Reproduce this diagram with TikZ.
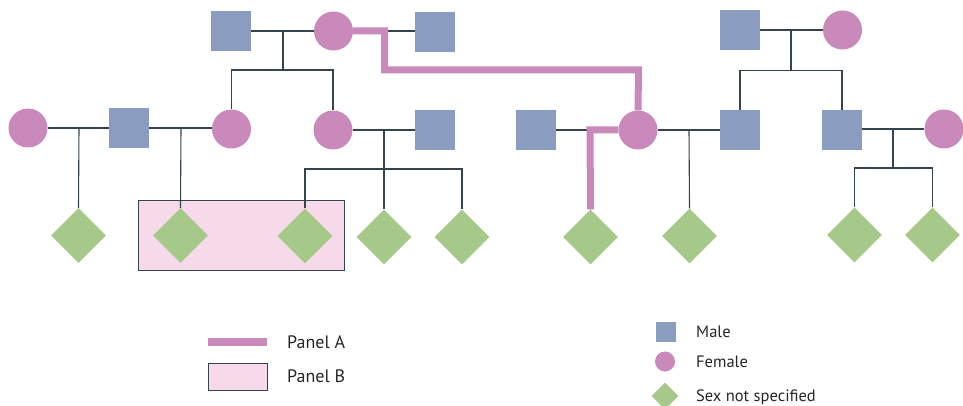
\documentclass[tikz,border=0pt]{standalone}
\usepackage{fontspec}
\setmainfont{PT Sans}
\usetikzlibrary{shapes.geometric}
\definecolor{maleblue}{HTML}{8A9CC0}
\definecolor{femalepink}{HTML}{C989BA}
\definecolor{unkgreen}{HTML}{A6C98A}
\definecolor{boxpink}{HTML}{F7DAE9}
\definecolor{linegray}{HTML}{34434E}
\begin{document}
\begin{tikzpicture}[x=1pt,y=-1pt,
  male/.style={rectangle, fill=maleblue, minimum size=40pt, inner sep=0pt},
  female/.style={circle, fill=femalepink, minimum size=39pt, inner sep=0pt},
  unk/.style={diamond, fill=unkgreen, minimum size=55pt, inner sep=0pt},
  rel/.style={draw=linegray, line width=1.1pt},
  panela/.style={draw=femalepink, line width=7pt},
  panelb/.style={draw=linegray, fill=boxpink, line width=1pt},
  lbl/.style={anchor=west, inner sep=0pt, font=\fontsize{18}{21}\selectfont, text=black!85},
  lbls/.style={lbl, font=\fontsize{16.5}{19}\selectfont}
]
\useasboundingbox (0,0) rectangle (963,406);
% Panel B box
\node[panelb, minimum width=206pt, minimum height=70pt, anchor=north west, inner sep=0pt] (boxB) at (138,200) {};
% Generation 1 (left)
\node[male] (M1) at (231,31) {};
\node[female] (F1) at (333.5,31) {};
\node[male] (M2) at (435,32) {};
% Generation 1 (right)
\node[male] (M8) at (740,30) {};
\node[female] (F6) at (842.5,30) {};
% Generation 2
\node[female] (F0) at (28,128) {};
\node[male] (M3) at (129,128) {};
\node[female] (F2) at (231.5,129) {};
\node[female] (F3) at (333,130) {};
\node[male] (M4) at (435,130) {};
\node[male] (M5) at (536,130) {};
\node[female] (F4) at (638,130) {};
\node[male] (M6) at (740,130) {};
\node[male] (M7) at (842,130) {};
\node[female] (F5) at (944,129) {};
% Generation 3
\node[unk] (D1) at (78.5,235.5) {};
\node[unk] (D2) at (180.5,235.5) {};
\node[unk] (D3) at (305,236) {};
\node[unk] (D4) at (384,237) {};
\node[unk] (D5) at (462,237) {};
\node[unk] (D6) at (590.5,237) {};
\node[unk] (D7) at (689.5,236) {};
\node[unk] (D8) at (854.5,235) {};
\node[unk] (D9) at (932.5,235) {};
% coordinates
\coordinate (c1) at (283,31);
\coordinate (s1) at (283,70);
\coordinate (c2) at (79,128);
\coordinate (c3) at (181,128);
\coordinate (c4) at (384,130);
\coordinate (s4) at (384,169);
\coordinate (c5) at (590,130);
\coordinate (c6) at (689,130);
\coordinate (c7) at (791,30);
\coordinate (s7) at (791,70.5);
\coordinate (c8) at (893,129);
\coordinate (s8) at (893,168);
% relationship lines
\draw[rel] (M1) -- (F1);
\draw[rel] (F1.east) -- (F1.east -| M2.west);
\draw[rel] (c1) -- (s1);
\draw[rel] (F2.north) |- (s1) -| (F3.north);
\draw[rel] (F0) -- (M3);
\draw[rel] (M3) -- (F2.west |- M3);
\draw[rel] (c2) -- (D1.north);
\draw[rel] (c3) -- (D2.north);
\draw[rel] (F3) -- (M4);
\draw[rel] (c4) -- (D4.north);
\draw[rel] (D3.north) |- (s4) -| (D5.north);
\draw[rel] (M5) -- (F4);
\draw[rel] (c5) -- (D6.north);
\draw[rel] (F4) -- (M6);
\draw[rel] (c6) -- (D7.north);
\draw[rel] (M8) -- (F6);
\draw[rel] (c7) -- (s7);
\draw[rel] (M6.north) |- (s7) -| (M7.north);
\draw[rel] (M7.east |- F5) -- (F5);
\draw[rel] (c8) -- (s8);
\draw[rel] (D8.north) |- (s8) -| (D9.north);
% Panel A path
\draw[panela, line join=miter] (F1.east) -- (384.5,31) -- (384.5,70) -- (638.5,70) -- (F4.north);
\draw[panela, line join=miter] (F4.west) -- (590,130) -- (D6.north);
% Legend
\coordinate (la1) at (208,342);
\coordinate (la2) at (267,342);
\draw[panela, line width=8pt] (la1) -- (la2);
\node[lbl] (tA) at (287,342) {Panel A};
\node[panelb, minimum width=59pt, minimum height=27pt, anchor=north west] (lb) at (208,363) {};
\node[lbl] (tB) at (287,376) {Panel B};
\node[male, minimum size=20pt] (lm) at (666,332) {};
\node[female, minimum size=20pt] (lf) at (665,361.5) {};
\node[unk, minimum size=27pt] (lu) at (665,396) {};
\node[lbls] (tm) at (696,332) {Male};
\node[lbls] (tf) at (696,362) {Female};
\node[lbls] (tu) at (696,397) {Sex not specified};
\end{tikzpicture}
\end{document}
